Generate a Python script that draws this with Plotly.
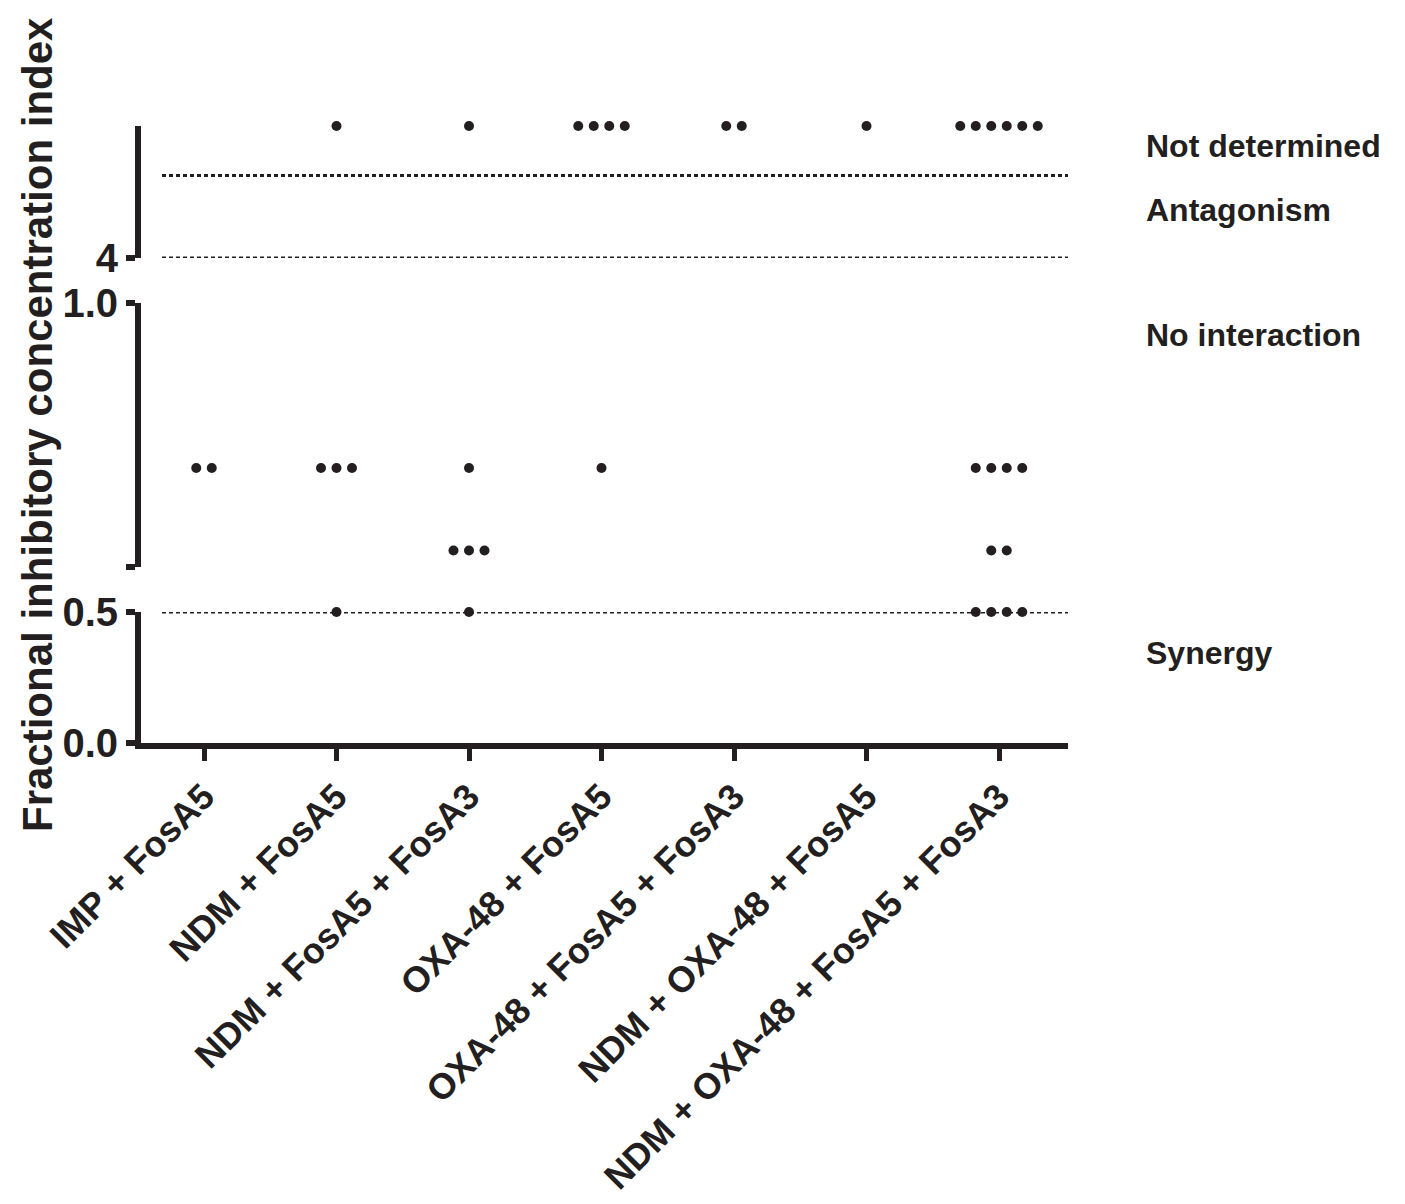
import plotly.graph_objects as go

# ---------------- data ----------------
categories = [
    "IMP + FosA5",
    "NDM + FosA5",
    "NDM + FosA5 + FosA3",
    "OXA-48 + FosA5",
    "OXA-48 + FosA5 + FosA3",
    "NDM + OXA-48 + FosA5",
    "NDM + OXA-48 + FosA5 + FosA3",
]
# FICI values per combination ("ND" = not determined)
imp_fosa5 = [0.75, 0.75]
ndm_fosa5 = ["ND", 0.75, 0.75, 0.75, 0.5]
ndm_fosa5_fosa3 = ["ND", 0.75, 0.625, 0.625, 0.625, 0.5]
oxa_fosa5 = ["ND", "ND", "ND", "ND", 0.75]
oxa_fosa5_fosa3 = ["ND", "ND"]
ndm_oxa_fosa5 = ["ND"]
ndm_oxa_fosa5_fosa3 = ["ND"] * 6 + [0.75] * 4 + [0.625] * 2 + [0.5] * 4

groups = [imp_fosa5, ndm_fosa5, ndm_fosa5_fosa3, oxa_fosa5,
          oxa_fosa5_fosa3, ndm_oxa_fosa5, ndm_oxa_fosa5_fosa3]

synergy_cut = 0.5
antagonism_cut = 4
nd_cut = 6.5
nd_level = 8

region_labels = ["Not determined", "Antagonism", "No interaction", "Synergy"]

# ---------------- layout geometry ----------------
OFF = 8  # page body margin
W, H = 1389, 1188
plot_left, plot_right, plot_top, plot_bottom = 141, 1068, 126, 743
L = plot_left - OFF
T = plot_top - OFF
plot_w = plot_right - plot_left
plot_h = plot_bottom - plot_top
R = W - L - plot_w
B = H - T - plot_h
cat_px = 132.5
first_cat_px = 204
x0 = -(first_cat_px - plot_left) / cat_px
x_range = [x0, x0 + plot_w / cat_px]
dot_gap = 15.5 / cat_px

def ypaper(py):
    return (plot_bottom - py) / plot_h

def xpaper(px):
    return (px - plot_left) / plot_w

INK = "#231f20"

pts = {"y": ([], []), "y2": ([], []), "y3": ([], [])}
for ci, vals in enumerate(groups):
    levels = {}
    for v in vals:
        levels.setdefault(v, 0)
        levels[v] += 1
    for v, n in levels.items():
        for i in range(n):
            xv = ci + (i - (n - 1) / 2) * dot_gap
            if v == "ND":
                key, yv = "y3", nd_level
            elif v <= synergy_cut:
                key, yv = "y", v
            else:
                key, yv = "y2", v
            pts[key][0].append(xv)
            pts[key][1].append(yv)

fig = go.Figure()
for key, (xs, ys) in pts.items():
    fig.add_trace(go.Scatter(
        x=xs, y=ys, yaxis=key, mode="markers",
        marker=dict(size=10, color=INK),
        cliponaxis=False, showlegend=False, hoverinfo="skip"))

font_family = "Liberation Sans, Arial, sans-serif"
tickfont = dict(family=font_family, size=40, color=INK, weight="bold")

common_y = dict(showline=True, linewidth=6, linecolor=INK, ticks="outside",
                ticklen=9, tickwidth=6, tickcolor=INK, showgrid=False,
                zeroline=False, tickfont=tickfont, anchor="x", fixedrange=True,
                automargin=False)

fig.update_layout(
    width=W, height=H,
    margin=dict(l=L, r=R, t=T, b=B, pad=0, autoexpand=False),
    paper_bgcolor="white", plot_bgcolor="white",
    xaxis=dict(range=x_range, showline=True, linewidth=6, linecolor=INK,
               ticks="outside", ticklen=12, tickwidth=5, tickcolor=INK,
               tickvals=list(range(len(categories))), ticktext=categories,
               tickangle=-45, showgrid=False, zeroline=False, automargin=False,
               tickfont=dict(family=font_family, size=36, color=INK, weight="bold"),
               anchor="y"),
    yaxis=dict(domain=[0, ypaper(612)], range=[0, synergy_cut],
               tickvals=[0, synergy_cut], ticktext=["0.0", "0.5"], **common_y),
    yaxis2=dict(domain=[ypaper(567), ypaper(303)], range=[0.6, 1.0],
                tickvals=[0.6, 1.0], ticktext=["", "1.0"], **common_y),
    yaxis3=dict(domain=[ypaper(258), 1.0], range=[antagonism_cut, nd_level],
                tickvals=[antagonism_cut], ticktext=["4"], **common_y),
)

dash = dict(color=INK, width=3, dash="4px,3px")
fig.add_shape(type="line", xref="paper", yref="y", x0=xpaper(162), x1=1.0,
              y0=synergy_cut, y1=synergy_cut, line=dash)
fig.add_shape(type="line", xref="paper", yref="y3", x0=xpaper(162), x1=1.0,
              y0=antagonism_cut, y1=antagonism_cut, line=dash)
fig.add_shape(type="line", xref="paper", yref="y3", x0=xpaper(162), x1=1.0,
              y0=nd_cut, y1=nd_cut, line=dash)

label_y = [146, 210, 335, 653]
for txt, py in zip(region_labels, label_y):
    fig.add_annotation(text=txt, xref="paper", yref="paper",
                       x=xpaper(1144), y=ypaper(py), xanchor="left", yanchor="middle",
                       showarrow=False,
                       font=dict(family=font_family, size=32, color=INK, weight="bold"))

fig.add_annotation(text="Fractional inhibitory concentration index",
                   xref="paper", yref="paper", x=xpaper(37), y=ypaper(425),
                   xanchor="center", yanchor="middle", textangle=-90, showarrow=False,
                   font=dict(family=font_family, size=42, color=INK, weight="bold"))

fig.write_html("out.html")
